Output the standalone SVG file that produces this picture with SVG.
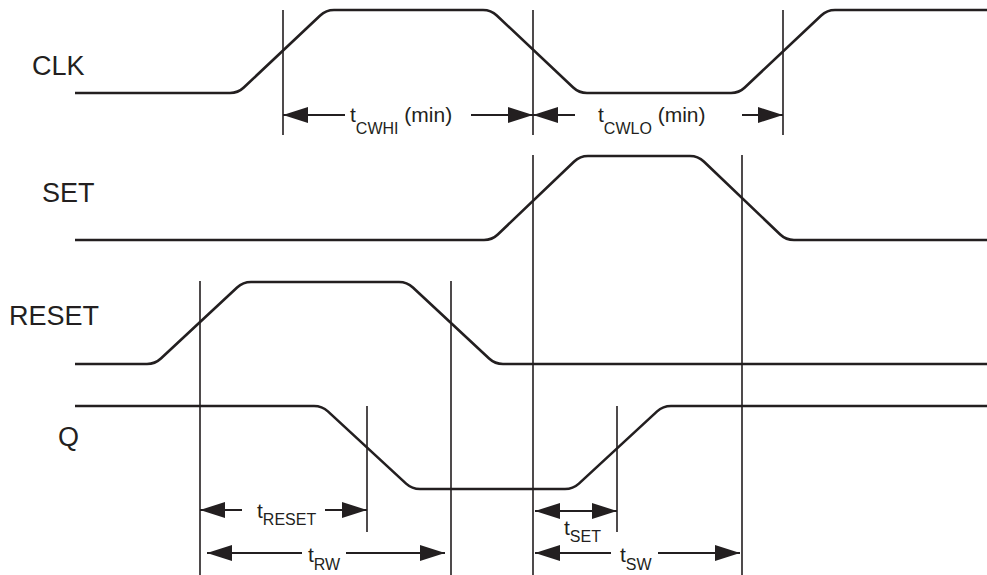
<svg xmlns="http://www.w3.org/2000/svg" width="987" height="575" viewBox="0 0 987 575">
<style>
.sig{fill:none;stroke:#231f20;stroke-width:2.6;stroke-linejoin:round}
.ref{fill:none;stroke:#231f20;stroke-width:1.6}
.dim{fill:none;stroke:#231f20;stroke-width:2;marker-end:url(#ah)}
.lbl{font-family:"Liberation Sans",Arial,sans-serif;font-size:27px;fill:#231f20}
.tm{font-family:"Liberation Sans",Arial,sans-serif;font-size:21px;fill:#231f20}
.sub{font-size:16px}
</style>
<defs>
<marker id="ah" viewBox="0 0 25 16" refX="25" refY="8" markerWidth="25" markerHeight="16" markerUnits="userSpaceOnUse" orient="auto-start-reverse">
<path d="M0,0 L25,8 L0,16 z" fill="#231f20"/>
</marker>
</defs>
<rect width="987" height="575" fill="#ffffff"/>
<g id="clk">
<text class="lbl" x="32" y="75">CLK</text>
<path class="sig" d="M75,93 L230,93 Q238,93 243.8,87.5 L320.2,15.5 Q326,10 334,10 L483,10 Q491,10 496.8,15.5 L573.2,87.5 Q579,93 587,93 L731,93 Q739,93 744.8,87.5 L821.2,15.5 Q827,10 835,10 L987,10"/>
</g>
<g id="set">
<text class="lbl" x="42" y="202">SET</text>
<path class="sig" d="M75,240 L484,240 Q492,240 497.8,234.5 L574.2,161.5 Q580,156 588,156 L690,156 Q698,156 703.8,161.5 L780.2,234.5 Q786,240 794,240 L987,240"/>
</g>
<g id="reset">
<text class="lbl" x="9" y="325">RESET</text>
<path class="sig" d="M75,364 L147,364 Q155,364 160.9,358.5 L237.1,287.5 Q243,282 251,282 L399,282 Q407,282 412.9,287.5 L489.1,358.5 Q495,364 503,364 L987,364"/>
</g>
<g id="q">
<text class="lbl" x="58" y="446">Q</text>
<path class="sig" d="M75,406 L314,406 Q322,406 327.9,411.4 L406.1,483.6 Q412,489 420,489 L565,489 Q573,489 578.9,483.6 L657.1,411.4 Q663,406 671,406 L987,406"/>
</g>
<g id="connectors">
<path class="ref" d="M283,10 V135 M533,10 V135 M783,10 V135 M533,155 V575 M742,155 V575 M200,281 V575 M451,281 V575 M367,406 V532 M617,406 V532"/>
<line class="dim" x1="345" y1="115" x2="283" y2="115"/>
<line class="dim" x1="471" y1="115" x2="533" y2="115"/>
<line class="dim" x1="575" y1="115" x2="533" y2="115"/>
<line class="dim" x1="742" y1="115" x2="783" y2="115"/>
<line class="dim" x1="242" y1="510" x2="200" y2="510"/>
<line class="dim" x1="325" y1="510" x2="367" y2="510"/>
<line class="dim" x1="302" y1="553" x2="207" y2="553"/>
<line class="dim" x1="346" y1="553" x2="445" y2="553"/>
<line class="dim" x1="535" y1="511" x2="617" y2="511" style="marker-start:url(#ah)"/>
<line class="dim" x1="611" y1="553" x2="535" y2="553"/>
<line class="dim" x1="658" y1="553" x2="740" y2="553"/>
</g>
<g id="labels">
<text class="tm" x="350" y="122">t<tspan class="sub" dy="12">CWHI</tspan><tspan dy="-12"> (min)</tspan></text>
<text class="tm" x="598" y="122">t<tspan class="sub" dy="12">CWLO</tspan><tspan dy="-12"> (min)</tspan></text>
<text class="tm" x="257" y="518">t<tspan class="sub" dy="7">RESET</tspan></text>
<text class="tm" x="308" y="562">t<tspan class="sub" dy="8">RW</tspan></text>
<text class="tm" x="564" y="535">t<tspan class="sub" dy="7">SET</tspan></text>
<text class="tm" x="620" y="562">t<tspan class="sub" dy="8">SW</tspan></text>
</g>
</svg>
